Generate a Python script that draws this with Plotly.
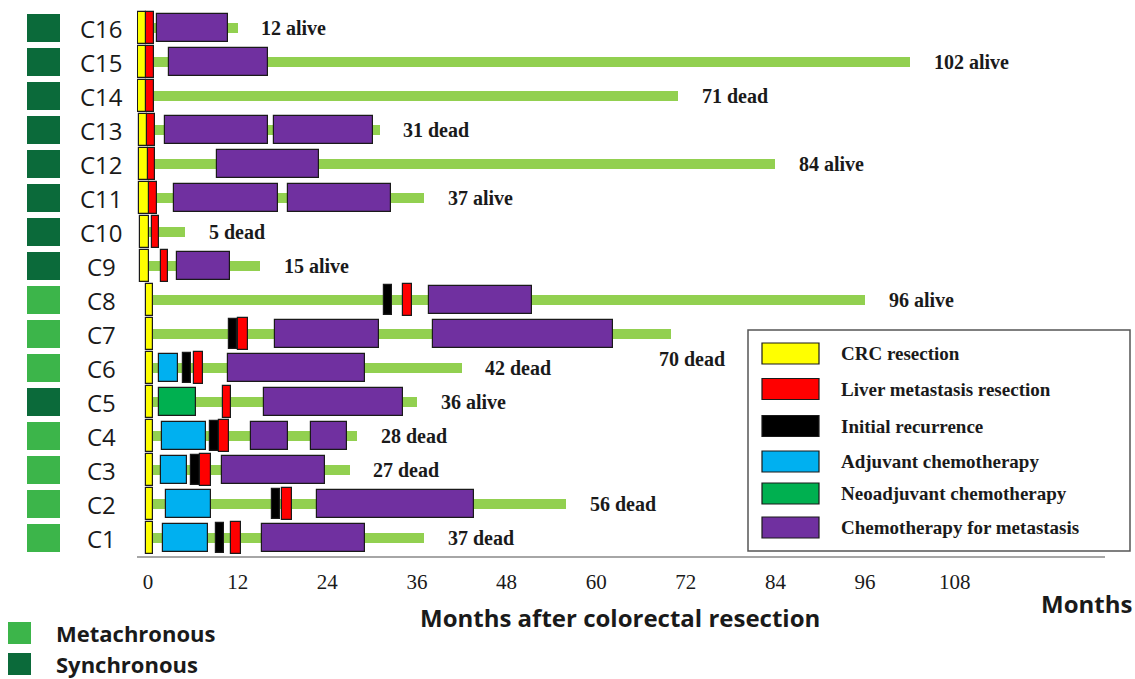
import plotly.graph_objects as go

# ---------------- data ----------------
cases = ["C1", "C2", "C3", "C4", "C5", "C6", "C7", "C8",
         "C9", "C10", "C11", "C12", "C13", "C14", "C15", "C16"]
groups = ["Metachronous", "Metachronous", "Metachronous", "Metachronous", "Synchronous",
          "Metachronous", "Metachronous", "Metachronous",
          "Synchronous", "Synchronous", "Synchronous", "Synchronous",
          "Synchronous", "Synchronous", "Synchronous", "Synchronous"]
survival_months = [37, 56, 27, 28, 36, 42, 70, 96, 15, 5, 37, 84, 31, 71, 102, 12]
status = ["dead", "dead", "dead", "dead", "alive", "dead", "dead", "alive",
          "alive", "dead", "alive", "alive", "dead", "dead", "alive", "alive"]

crc_resection = {
    "C1": [(-0.3, 0.7)], "C2": [(-0.3, 0.7)], "C3": [(-0.3, 0.7)], "C4": [(-0.3, 0.7)],
    "C5": [(-0.3, 0.7)], "C6": [(-0.3, 0.7)], "C7": [(-0.3, 0.7)], "C8": [(-0.3, 0.7)],
    "C9": [(-1.1, 0.1)], "C10": [(-1.1, 0.1)], "C11": [(-1.2, 0.1)], "C12": [(-1.2, 0.0)],
    "C13": [(-1.2, -0.1)], "C14": [(-1.3, -0.3)], "C15": [(-1.3, -0.3)], "C16": [(-1.3, -0.3)],
}
liver_resection = {
    "C1": [(11.1, 12.4)], "C2": [(17.9, 19.3)], "C3": [(7.0, 8.4)], "C4": [(9.5, 10.8)],
    "C5": [(10.0, 11.1)], "C6": [(6.2, 7.4)], "C7": [(12.0, 13.4)], "C8": [(34.1, 35.3)],
    "C9": [(1.7, 2.7)], "C10": [(0.5, 1.5)], "C11": [(0.1, 1.2)], "C12": [(0.0, 0.9)],
    "C13": [(-0.1, 0.9)], "C14": [(-0.3, 0.8)], "C15": [(-0.3, 0.8)], "C16": [(-0.3, 0.8)],
}
initial_recurrence = {
    "C1": [(9.1, 10.2)], "C2": [(16.6, 17.7)], "C3": [(5.8, 7.0)], "C4": [(8.3, 9.5)],
    "C6": [(4.7, 5.8)], "C7": [(10.8, 11.9)], "C8": [(31.6, 32.7)],
}
adjuvant_chemo = {
    "C1": [(2.0, 8.0)], "C2": [(2.4, 8.4)], "C3": [(1.7, 5.2)], "C4": [(1.9, 7.8)],
    "C6": [(1.5, 4.0)],
}
neoadjuvant_chemo = {
    "C5": [(1.5, 6.4)],
}
chemo_metastasis = {
    "C1": [(15.3, 29.0)], "C2": [(22.6, 43.6)], "C3": [(9.9, 23.7)],
    "C4": [(13.8, 18.7), (21.8, 26.6)], "C5": [(15.5, 34.1)], "C6": [(10.7, 29.0)],
    "C7": [(17.0, 30.9), (38.2, 62.2)], "C8": [(37.6, 51.4)], "C9": [(3.9, 11.0)],
    "C11": [(3.5, 17.4), (18.7, 32.5)], "C12": [(9.2, 22.9)],
    "C13": [(2.3, 16.1), (16.9, 30.1)], "C15": [(2.8, 16.1)], "C16": [(1.2, 10.7)],
}

x_ticks = [0, 12, 24, 36, 48, 60, 72, 84, 96, 108]

legend_labels = ["CRC resection", "Liver metastasis resection", "Initial recurrence",
                 "Adjuvant chemotherapy", "Neoadjuvant chemotherapy",
                 "Chemotherapy for metastasis"]

# ---------------- styling ----------------
COL_SURV = "#92d050"
COL_YEL = "#ffff00"
COL_RED = "#ff0000"
COL_BLK = "#000000"
COL_BLUE = "#00b0f0"
COL_NEO = "#00b050"
COL_PUR = "#7030a0"
COL_META = "#3cb54a"
COL_SYNC = "#0b6a3a"
OUTLINE = "#1a1a1a"

W, H = 1135, 679
PL, PR, PT, PB = 137, 1105, 10, 556   # plot area in page pixels
PW, PH = PR - PL, PB - PT
ROW_PX = 34.0
row_of = {c: i for i, c in enumerate(cases)}
y_lo = -(PB - 538) / ROW_PX
y_hi = y_lo + PH / ROW_PX
PX_PER_MONTH = 7.47
x_lo = (PL - 148) / PX_PER_MONTH
x_hi = x_lo + PW / PX_PER_MONTH


def px_x(x):
    return (x - PL) / PW


def px_y(y):
    return (PB - y) / PH


fig = go.Figure()


def add_intervals(events, color, height, line_w=1.2):
    ys, bases, lens = [], [], []
    for c, ivs in events.items():
        for s, e in ivs:
            ys.append(row_of[c])
            bases.append(s)
            lens.append(e - s)
    fig.add_trace(go.Bar(
        orientation="h", y=ys, x=lens, base=bases, width=height,
        marker=dict(color=color, line=dict(color=OUTLINE, width=line_w)),
        hoverinfo="skip", showlegend=False))


# survival bars
fig.add_trace(go.Bar(
    orientation="h", y=list(range(len(cases))), x=survival_months,
    base=[0] * len(cases), width=0.3,
    marker=dict(color=COL_SURV, line=dict(width=0)),
    hoverinfo="skip", showlegend=False))

add_intervals(chemo_metastasis, COL_PUR, 0.8)
add_intervals(adjuvant_chemo, COL_BLUE, 0.8)
add_intervals(neoadjuvant_chemo, COL_NEO, 0.82)
add_intervals(initial_recurrence, COL_BLK, 0.86)
add_intervals(liver_resection, COL_RED, 0.92)
add_intervals(crc_resection, COL_YEL, 0.92)

shapes = []
annotations = []

# group squares and case labels
for i, (c, g) in enumerate(zip(cases, groups)):
    shapes.append(dict(type="rect", xref="paper", yref="y",
                       x0=px_x(27), x1=px_x(60), y0=i - 0.41, y1=i + 0.41,
                       fillcolor=COL_SYNC if g == "Synchronous" else COL_META,
                       line=dict(width=0), layer="above"))
    annotations.append(dict(xref="paper", yref="y", x=px_x(101), y=i, text=c,
                            showarrow=False, xanchor="center", yanchor="middle",
                            font=dict(family="Open Sans", size=24, color="#1a1a1a")))

# status labels
for i, (c, m, st) in enumerate(zip(cases, survival_months, status)):
    a = dict(xref="x", yref="y", x=m + 2.9, y=i, text=f"<b>{m} {st}</b>",
             showarrow=False, xanchor="left", yanchor="middle",
             font=dict(family="Liberation Serif", size=20, color="#1a1a1a"))
    if c == "C7":
        a["x"] = m - 1.8
        a["yshift"] = -25
    annotations.append(a)

# event legend box
shapes.append(dict(type="rect", xref="paper", yref="paper",
                   x0=px_x(748), x1=px_x(1130), y0=px_y(551), y1=px_y(330),
                   fillcolor="white", line=dict(color="#555555", width=1.5), layer="above"))
legend_cols = [COL_YEL, COL_RED, COL_BLK, COL_BLUE, COL_NEO, COL_PUR]
legend_y = [353.5, 389, 426, 461.5, 493.5, 527.5]
for lab, col, yc in zip(legend_labels, legend_cols, legend_y):
    shapes.append(dict(type="rect", xref="paper", yref="paper",
                       x0=px_x(762), x1=px_x(819), y0=px_y(yc + 10.5), y1=px_y(yc - 10.5),
                       fillcolor=col, line=dict(color=OUTLINE, width=1.2), layer="above"))
    annotations.append(dict(xref="paper", yref="paper", x=px_x(839), y=px_y(yc),
                            text=f"<b>{lab}</b>", showarrow=False,
                            xanchor="left", yanchor="middle",
                            font=dict(family="Liberation Serif", size=19, color="#1a1a1a")))

# group legend (bottom left)
for lab, col, yc in [("Metachronous", COL_META, 633), ("Synchronous", COL_SYNC, 664)]:
    shapes.append(dict(type="rect", xref="paper", yref="paper",
                       x0=px_x(8), x1=px_x(31), y0=px_y(yc + 11), y1=px_y(yc - 11),
                       fillcolor=col, line=dict(width=0)))
    annotations.append(dict(xref="paper", yref="paper", x=px_x(54), y=px_y(yc),
                            text=f"<b>{lab}</b>", showarrow=False,
                            xanchor="left", yanchor="middle",
                            font=dict(family="Open Sans", size=22, color="#1a1a1a")))

# axis titles
annotations.append(dict(xref="paper", yref="paper", x=px_x(620), y=px_y(617),
                        text="<b>Months after colorectal resection</b>", showarrow=False,
                        xanchor="center", yanchor="middle",
                        font=dict(family="Open Sans", size=24, color="#1a1a1a")))
annotations.append(dict(xref="paper", yref="paper", x=px_x(1134), y=px_y(603),
                        text="<b>Months</b>", showarrow=False,
                        xanchor="right", yanchor="middle",
                        font=dict(family="Open Sans", size=24, color="#1a1a1a")))

fig.update_layout(
    width=W, height=H,
    margin=dict(l=PL, r=W - PR, t=PT, b=H - PB, pad=0),
    paper_bgcolor="white", plot_bgcolor="white",
    barmode="overlay", bargap=0,
    shapes=shapes, annotations=annotations,
    showlegend=False,
    xaxis=dict(range=[x_lo, x_hi], tickvals=x_ticks, ticktext=[str(t) for t in x_ticks],
               showgrid=False, zeroline=False, showline=True,
               linecolor="#a6a6a6", linewidth=2, ticks="",
               ticklabelstandoff=6,
               tickfont=dict(family="Liberation Serif", size=21, color="#1a1a1a")),
    yaxis=dict(range=[y_lo, y_hi], showgrid=False, zeroline=False, showline=False,
               showticklabels=False, ticks=""),
)

# remove the browser's default page margin so the figure fills the window exactly
fig.write_html("out.html",
               config={"displayModeBar": False},
               post_script="document.body.style.margin='0';document.body.style.overflow='hidden';")
